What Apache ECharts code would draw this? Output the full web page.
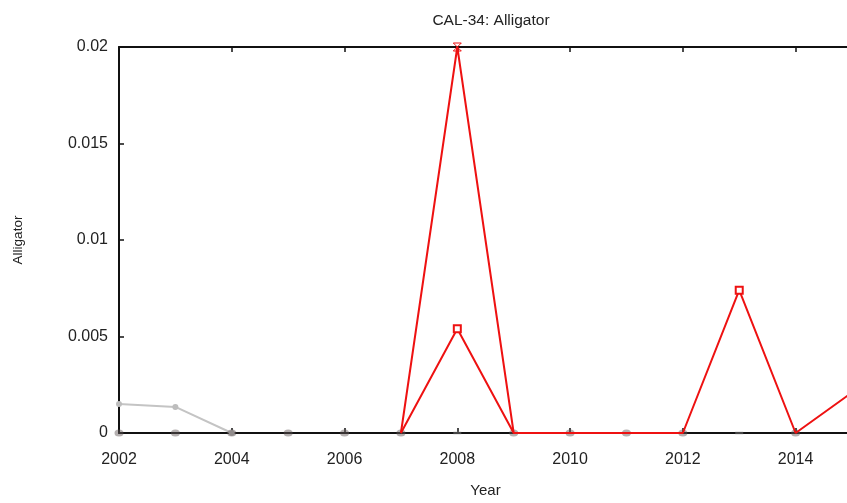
<!DOCTYPE html>
<html>
<head>
<meta charset="utf-8">
<script src="https://cdn.jsdelivr.net/npm/echarts@6/dist/echarts.min.js"></script>
<style>
html,body{margin:0;padding:0;background:#fff;overflow:hidden;width:847px;height:503px;}
#c{width:900px;height:503px;}
</style>
</head>
<body>
<div id="c"></div>
<script>
var years = [2002,2003,2004,2005,2006,2007,2008,2009,2010,2011,2012,2013,2014,2015];
var redSquare = [null,null,null,null,null,0,0.0054,0,0,0,0,0.0074,0,0.0021];
var redCross  = [null,null,null,null,null,0,0.0200,0,null,null,null,null,null,null];
var grayLine  = [0.0015,0.00135,0,null,null,null,null,null,null,null,null,null,null,null];
var zeroDark  = [0,0,0,0,0,0,null,0,0,0,0,null,0,null];
var zeroLight = [null,null,null,null,null,null,0,null,null,null,null,0,null,null];
var yTicks = [0,0.005,0.01,0.015,0.02];

function pairs(arr){ var out=[]; for(var i=0;i<years.length;i++){ out.push([years[i], arr[i]]); } return out; }
function items(arr, sym){
  var out=[];
  for(var i=0;i<years.length;i++){
    var v = arr[i];
    out.push({value:[years[i], v], symbol:(v ? sym : 'none')});
  }
  return out;
}
function onlyVals(arr){ return pairs(arr).filter(function(p){return p[1]!==null;}); }

var chart = echarts.init(document.getElementById('c'), null, {renderer:'canvas'});
var font = 'Liberation Sans, Arial, sans-serif';
var gridLeft = 119, gridW = 733;
chart.setOption({
  animation:false,
  backgroundColor:'#fff',
  title:{text:'CAL-34: Alligator', left:486, top:8, textAlign:'center',
    textStyle:{fontFamily:font, fontSize:15.5, fontWeight:'normal', color:'#222'}},
  grid:{left:gridLeft, top:47, width:gridW, height:386, containLabel:false},
  xAxis:[{
    type:'value', min:2002, max:2015, interval:2,
    name:'Year', nameLocation:'middle', nameGap:50,
    nameTextStyle:{fontFamily:font, fontSize:15, color:'#222'},
    axisLine:{show:true, onZero:false, lineStyle:{color:'#111', width:2}},
    axisTick:{show:true, inside:true, length:5, lineStyle:{color:'#111', width:1.5}},
    axisLabel:{fontFamily:font, fontSize:16, color:'#222', margin:19, showMaxLabel:false,
      formatter:function(v){ return String(v); }},
    splitLine:{show:false}
  },{
    type:'value', position:'top', min:2002, max:2015, interval:2,
    axisLine:{show:true, onZero:false, lineStyle:{color:'#111', width:2}},
    axisTick:{show:true, inside:true, length:5, lineStyle:{color:'#111', width:1.5}},
    axisLabel:{show:false}, splitLine:{show:false}
  }],
  yAxis:[{
    type:'value', min:yTicks[0], max:yTicks[yTicks.length-1], interval:0.005,
    name:'Alligator', nameLocation:'middle', nameGap:94, nameRotate:90,
    nameTextStyle:{fontFamily:font, fontSize:13.5, color:'#222'},
    axisLine:{show:true, onZero:false, lineStyle:{color:'#111', width:2}},
    axisTick:{show:true, inside:true, length:5, lineStyle:{color:'#111', width:1.5}},
    axisLabel:{fontFamily:font, fontSize:16, color:'#222', margin:11,
      formatter:function(v){ return String(+v.toFixed(4)); }},
    splitLine:{show:false}
  },{
    type:'value', position:'right', min:0, max:0.02, interval:0.005,
    axisLine:{show:true, onZero:false, lineStyle:{color:'#111', width:2}},
    axisTick:{show:true, inside:true, length:5, lineStyle:{color:'#111', width:1.5}},
    axisLabel:{show:false}, splitLine:{show:false}
  }],
  series:[
    {type:'line', data:pairs(grayLine), connectNulls:false, z:2,
      lineStyle:{color:'#c4c4c4', width:2}, itemStyle:{color:'#bdbdbd'},
      symbol:'circle', symbolSize:6, showSymbol:true},
    {type:'scatter', data:onlyVals(zeroDark), z:3,
      symbol:'circle', symbolSize:[9,7], itemStyle:{color:'rgba(100,90,90,0.6)'}},
    {type:'scatter', data:onlyVals(zeroLight), z:3,
      symbol:'rect', symbolSize:[8,3], itemStyle:{color:'rgba(150,150,150,0.5)'}},
    {type:'line', data:items(redCross, 'path://M0,0 L10,10 M10,0 L0,10 M0,0 L10,0 M0,10 L10,10'), connectNulls:false, z:5,
      lineStyle:{color:'#ee1111', width:2}, itemStyle:{color:'#ee1111', borderColor:'#ee1111'},
      symbolSize:8, showSymbol:true, showAllSymbol:true},
    {type:'line', data:items(redSquare, 'emptyRect'), connectNulls:false, z:6,
      lineStyle:{color:'#ee1111', width:2}, itemStyle:{color:'#ee1111', borderColor:'#ee1111', borderWidth:2},
      symbolSize:7, showSymbol:true, showAllSymbol:true}
  ]
});
</script>
</body>
</html>
